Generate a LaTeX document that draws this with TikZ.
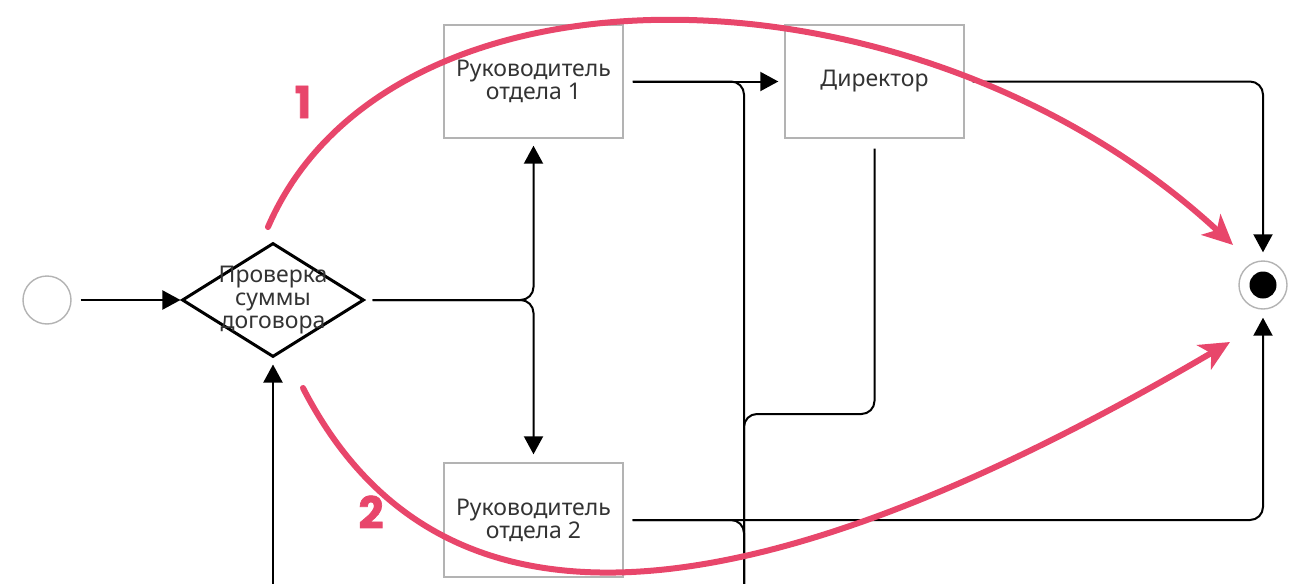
\documentclass[tikz,border=0pt]{standalone}
\usepackage{fontspec}
\setmainfont{Noto Sans}
\newfontfamily\numfont{Poppins}[BoldFeatures={FakeBold=1.5}]
\usepackage{tikz}
\usetikzlibrary{shapes.geometric,arrows.meta,positioning}
\definecolor{txtgray}{HTML}{333333}
\definecolor{boxgray}{HTML}{B3B3B3}
\definecolor{markpink}{HTML}{E8466B}

\begin{document}
\begin{tikzpicture}[x=0.5pt,y=-0.5pt,
    font=\fontsize{11.5}{11.5}\selectfont,text=txtgray,
    task/.style={rectangle,draw=boxgray,line width=0.7pt,minimum width=89.5pt,minimum height=56.5pt,align=center},
    flow/.style={line width=1pt,-{Triangle[length=9pt,width=9.5pt]}},
    link/.style={line width=1pt,rounded corners=6.5pt},
    hint/.style={draw=markpink,line width=3pt,line cap=round,-{Stealth[length=15pt,width=14pt,inset=4pt]}},
    num/.style={text=markpink,font=\numfont\bfseries\fontsize{22}{22}\selectfont}]

    \useasboundingbox (0,0) rectangle (1298,584);

    \node [circle,draw=boxgray,line width=0.7pt,minimum size=24pt] (start) at (47,300) {};
    \node [diamond,draw,line width=1.5pt,minimum width=91pt,minimum height=57pt,inner sep=0pt,
           label={[align=center]center:Проверка\\суммы\\договора}] (chk) at (273,300) {};
    \node [task] (ruk1) at (533.5,81.5) {Руководитель\\отдела 1};
    \node [task,minimum height=57pt] (ruk2) at (533.5,520) {Руководитель\\отдела 2};
    \node [task] (dir) at (874.5,81.5) {Директор};
    \node [circle,draw=boxgray,line width=0.7pt,minimum size=24pt,
           path picture={\fill[black] (path picture bounding box.center) circle (6.75pt);}] (end) at (1263,285) {};

    \coordinate (down) at (744,584);
    \coordinate (bend) at (744,414);
    \coordinate (up) at (273,584);

    \draw [flow,shorten <=4.5pt] (start) -- (chk);
    \draw [flow,link,shorten <=3.5pt,shorten >=3.5pt] (chk.east) -| (ruk1.south);
    \draw [flow,link,shorten <=3.5pt,shorten >=4pt] (chk.east) -| (ruk2.north);
    \draw [flow,shorten <=4.5pt,shorten >=3pt] (ruk1) -- (dir);
    \draw [link,shorten <=4.5pt] (ruk1.east) -| (down);
    \draw [link,shorten <=4.5pt] (ruk2.east) -| (down);
    \draw [link,shorten <=5pt] (dir.south) |- (bend) -- (down);
    \draw [flow,link,shorten <=4pt,shorten >=4pt] (dir.east) -| (end.north);
    \draw [flow,link,shorten <=4.5pt,shorten >=4pt] (ruk2.east) -| (end.south);
    \draw [flow,shorten >=3pt] (up) -- (chk.south);

    \coordinate (h1s) at (268,227);
    \coordinate (h1e) at (1233,245);
    \coordinate (h2s) at (303,388);
    \coordinate (h2e) at (1230,342);
    \draw [hint] (h1s) .. controls (390,-55) and (920,-45) .. (h1e);
    \draw [hint] (h2s) .. controls (420,615) and (680,665) .. (h2e);

    \node [num] (n1) at (303,102) {1};
    \node [num] (n2) at (371,512) {2};
\end{tikzpicture}
\end{document}
